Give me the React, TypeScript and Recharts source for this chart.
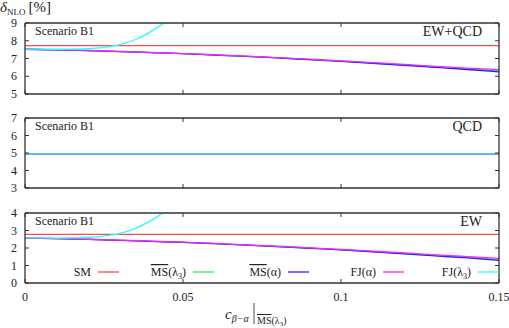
import React from "react";
import { LineChart, Line, XAxis, YAxis } from "recharts";

// x grid of the smooth curves, and the finer one for the steep FJ(lambda3) curve
const xs = [0, 0.01, 0.02, 0.03, 0.04, 0.05, 0.06, 0.07, 0.08, 0.09, 0.1, 0.11, 0.12, 0.13, 0.14, 0.15];
const xsFine = [0, 0.005, 0.01, 0.015, 0.02, 0.025, 0.03, 0.035, 0.04, 0.045, 0.05];

const xTicks = [0, 0.05, 0.1, 0.15];
const seriesNames = ["SM", "MS(λ3)", "MS(α)", "FJ(α)", "FJ(λ3)"];

// EW+QCD
const smTotal = [7.73, 7.73, 7.73, 7.73, 7.73, 7.73, 7.73, 7.73, 7.73, 7.73, 7.73, 7.73, 7.73, 7.73, 7.73, 7.73];
const msL3Total = [7.52, 7.485, 7.44, 7.39, 7.33, 7.27, 7.195, 7.115, 7.03, 6.94, 6.85, 6.74, 6.635, 6.52, 6.41, 6.31];
const msATotal = [7.52, 7.485, 7.44, 7.39, 7.33, 7.27, 7.195, 7.115, 7.03, 6.935, 6.84, 6.73, 6.62, 6.5, 6.38, 6.25];
const fjATotal = [7.52, 7.49, 7.45, 7.4, 7.34, 7.28, 7.21, 7.13, 7.05, 6.96, 6.87, 6.77, 6.67, 6.56, 6.46, 6.37];
const fjL3Total = [7.53, 7.525, 7.52, 7.525, 7.55, 7.63, 7.78, 8.07, 8.53, 9.13, 9.85];

// QCD
const smQcd = [4.95, 4.95, 4.95, 4.95, 4.95, 4.95, 4.95, 4.95, 4.95, 4.95, 4.95, 4.95, 4.95, 4.95, 4.95, 4.95];
const msL3Qcd = [4.95, 4.95, 4.95, 4.95, 4.95, 4.95, 4.95, 4.95, 4.95, 4.95, 4.95, 4.95, 4.95, 4.95, 4.95, 4.95];
const msAQcd = [4.95, 4.95, 4.95, 4.95, 4.95, 4.95, 4.95, 4.95, 4.95, 4.95, 4.95, 4.95, 4.95, 4.95, 4.95, 4.95];
const fjAQcd = [4.95, 4.95, 4.95, 4.95, 4.95, 4.95, 4.95, 4.95, 4.95, 4.95, 4.95, 4.95, 4.95, 4.95, 4.95, 4.95];
const fjL3Qcd = [4.95, 4.95, 4.95, 4.95, 4.95, 4.95, 4.95, 4.95, 4.95, 4.95, 4.95, 4.95, 4.95, 4.95, 4.95, 4.95];

// EW
const smEw = [2.78, 2.78, 2.78, 2.78, 2.78, 2.78, 2.78, 2.78, 2.78, 2.78, 2.78, 2.78, 2.78, 2.78, 2.78, 2.78];
const msL3Ew = [2.57, 2.535, 2.49, 2.44, 2.38, 2.32, 2.245, 2.165, 2.08, 1.99, 1.895, 1.79, 1.685, 1.57, 1.46, 1.35];
const msAEw = [2.57, 2.535, 2.49, 2.44, 2.38, 2.32, 2.245, 2.165, 2.08, 1.985, 1.89, 1.78, 1.67, 1.55, 1.43, 1.29];
const fjAEw = [2.57, 2.54, 2.5, 2.45, 2.39, 2.33, 2.26, 2.18, 2.1, 2.01, 1.92, 1.82, 1.72, 1.61, 1.51, 1.41];
const fjL3Ew = [2.58, 2.575, 2.57, 2.575, 2.6, 2.68, 2.83, 3.12, 3.58, 4.18, 4.9];

const COLORS = ["#ff4a4a", "#33ee33", "#2222ff", "#ff22ff", "#22ffff"];
const FRAME = "#333";
const INK = "#222";
const FONT = "'Liberation Serif', 'DejaVu Serif', serif";

const toPoints = (xArr: number[], yArr: number[]) => xArr.map((x, i) => ({ x, y: yArr[i] }));

const panels = [
  {
    label: "EW+QCD",
    top: 0,
    height: 100,
    margin: { top: 22, right: 9, bottom: 5, left: 0 },
    domain: [5, 9],
    ticks: [5, 6, 7, 8, 9],
    series: [smTotal, msL3Total, msATotal, fjATotal, fjL3Total],
    xLabels: false,
  },
  {
    label: "QCD",
    top: 100,
    height: 100,
    margin: { top: 17, right: 9, bottom: 11, left: 0 },
    domain: [3, 7],
    ticks: [3, 4, 5, 6, 7],
    series: [smQcd, msL3Qcd, msAQcd, fjAQcd, fjL3Qcd],
    xLabels: false,
  },
  {
    label: "EW",
    top: 200,
    height: 128,
    margin: { top: 12, right: 9, bottom: 44, left: 0 },
    domain: [0, 4],
    ticks: [0, 1, 2, 3, 4],
    series: [smEw, msL3Ew, msAEw, fjAEw, fjL3Ew],
    xLabels: true,
  },
];

const txt = { fontFamily: FONT, fill: INK } as React.CSSProperties;

const Panel = ({ p }: { p: (typeof panels)[number] }) => (
  <div style={{ position: "absolute", left: 0, top: p.top }}>
    <LineChart width={509} height={p.height} margin={p.margin}>
      <XAxis
        xAxisId="b"
        type="number"
        dataKey="x"
        domain={[0, 0.15]}
        ticks={xTicks}
        interval={0}
        allowDataOverflow
        height={1}
        tickSize={0}
        tickMargin={0}
        tickLine={false}
        axisLine={{ stroke: FRAME, strokeWidth: 1.3 }}
        tick={(t: any) => (
          <g>
            <line x1={t.x} x2={t.x} y1={t.y} y2={t.y - 4} stroke={FRAME} />
            {p.xLabels && (
              <text x={t.x} y={t.y + 18} textAnchor="middle" fontSize={12} style={txt}>
                {t.payload.value}
              </text>
            )}
          </g>
        )}
      />
      <XAxis
        xAxisId="t"
        orientation="top"
        type="number"
        dataKey="x"
        domain={[0, 0.15]}
        ticks={xTicks}
        interval={0}
        allowDataOverflow
        height={1}
        tickSize={0}
        tickMargin={0}
        tickLine={false}
        axisLine={{ stroke: FRAME, strokeWidth: 1.3 }}
        tick={(t: any) => <line x1={t.x} x2={t.x} y1={t.y} y2={t.y + 4} stroke={FRAME} />}
      />
      <YAxis
        yAxisId="l"
        type="number"
        domain={p.domain}
        ticks={p.ticks}
        interval={0}
        allowDataOverflow
        width={25}
        tickSize={0}
        tickMargin={0}
        tickLine={false}
        axisLine={{ stroke: FRAME, strokeWidth: 1.3 }}
        tick={(t: any) => (
          <g>
            <line x1={t.x} x2={t.x + 4} y1={t.y} y2={t.y} stroke={FRAME} />
            <text x={t.x - 8} y={t.y + 4} textAnchor="end" fontSize={12} style={txt}>
              {t.payload.value}
            </text>
          </g>
        )}
      />
      <YAxis
        yAxisId="r"
        orientation="right"
        type="number"
        domain={p.domain}
        ticks={p.ticks}
        interval={0}
        allowDataOverflow
        width={1}
        tickSize={0}
        tickMargin={0}
        tickLine={false}
        axisLine={{ stroke: FRAME, strokeWidth: 1.3 }}
        tick={(t: any) => <line x1={t.x} x2={t.x - 4} y1={t.y} y2={t.y} stroke={FRAME} />}
      />
      {p.series.map((ys, i) => (
        <Line
          key={seriesNames[i]}
          name={seriesNames[i]}
          xAxisId="b"
          yAxisId="l"
          data={toPoints(ys.length === xs.length ? xs : xsFine, ys)}
          dataKey="y"
          type="monotone"
          stroke={COLORS[i]}
          strokeWidth={1.3}
          dot={false}
          isAnimationActive={false}
        />
      ))}
    </LineChart>
  </div>
);

const LegendLabel = ({ name }: { name: string }) => {
  const over = name.startsWith("MS");
  const rest = over ? name.slice(2) : name;
  const m = rest.match(/^(.*)λ3\)$/);
  return (
    <>
      {over && <tspan textDecoration="overline">MS</tspan>}
      {m ? (
        <>
          <tspan>{m[1]}λ</tspan>
          <tspan dy={3} fontSize={8}>3</tspan>
          <tspan dy={-3}>)</tspan>
        </>
      ) : (
        <tspan>{rest}</tspan>
      )}
    </>
  );
};

export default function App() {
  return (
    <div
      style={{
        position: "absolute",
        left: 0,
        top: 0,
        width: 509,
        height: 328,
        background: "#fff",
        fontFamily: FONT,
      }}
    >
      {panels.map((p) => (
        <Panel key={p.label} p={p} />
      ))}
      <svg
        width={509}
        height={328}
        style={{ position: "absolute", left: 0, top: 0, pointerEvents: "none", fontFamily: FONT }}
        fill={INK}
      >
        {/* y axis title */}
        <text x={0} y={12} fontSize={15}>
          <tspan fontStyle="italic">δ</tspan>
          <tspan dy={3} fontSize={9}>NLO</tspan>
          <tspan dy={-3} dx={3}>[%]</tspan>
        </text>

        {panels.map((p) => (
          <g key={p.label}>
            <text x={35} y={p.top + p.margin.top + 13} fontSize={12}>
              Scenario B1
            </text>
            <text x={482} y={p.top + p.margin.top + 14} fontSize={14} textAnchor="end">
              {p.label}
            </text>
          </g>
        ))}

        {/* legend */}
        {seriesNames.map((n, i) => {
          const x0 = 98 + i * 95;
          return (
            <g key={n}>
              <text x={x0 - 7} y={276} fontSize={12} textAnchor="end">
                <LegendLabel name={n} />
              </text>
              <line x1={x0} x2={x0 + 21} y1={272} y2={272} stroke={COLORS[i]} strokeWidth={1.3} />
            </g>
          );
        })}

        {/* x axis title */}
        <text x={225} y={319} fontSize={15}>
          <tspan fontStyle="italic">c</tspan>
          <tspan dy={3} fontSize={10} fontStyle="italic">β−α</tspan>
        </text>
        <line x1={254} x2={254} y1={303} y2={324} stroke={INK} strokeWidth={0.8} />
        <text x={257} y={324} fontSize={10}>
          <tspan textDecoration="overline">MS</tspan>
          <tspan>(λ</tspan>
          <tspan dy={2} fontSize={7}>3</tspan>
          <tspan dy={-2}>)</tspan>
        </text>
      </svg>
    </div>
  );
}
